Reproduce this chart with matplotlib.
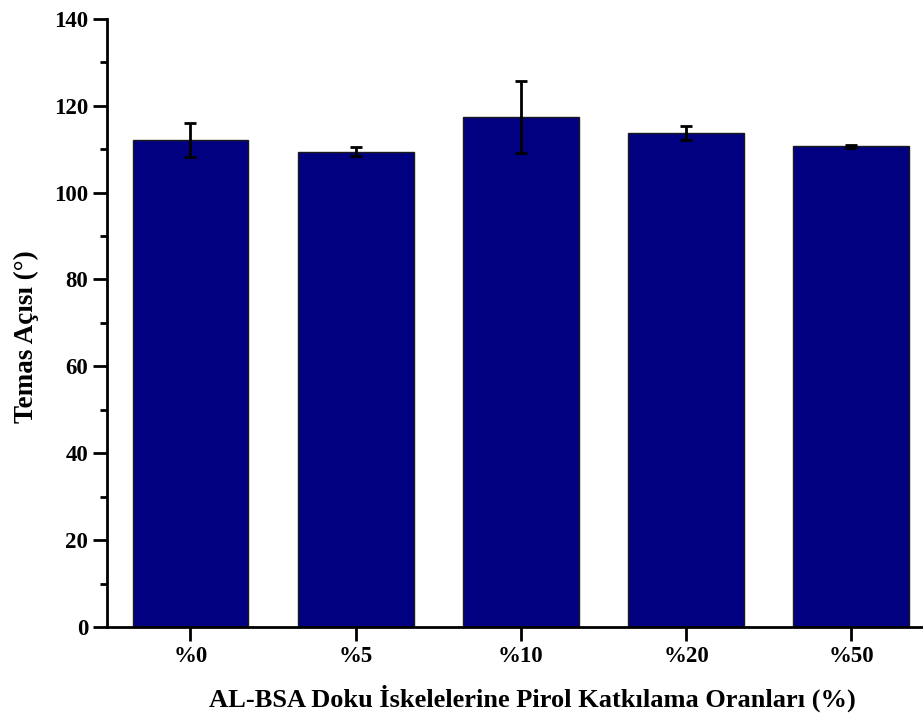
import matplotlib.pyplot as plt
from matplotlib.ticker import MultipleLocator

# Temas açısı ölçümleri (ortalama ± std)
oranlar = ["%0", "%5", "%10", "%20", "%50"]
temas_acisi = [112.1, 109.4, 117.4, 113.7, 110.6]
hata = [4.0, 1.05, 8.2, 1.55, 0.25]

plt.rcParams["font.family"] = ["Liberation Serif", "DejaVu Serif"]
plt.rcParams["font.weight"] = "bold"

fig = plt.figure(figsize=(9.23, 7.2), dpi=100)
ax = fig.add_axes([0.116, 0.129, 0.884, 0.845])

x = range(len(oranlar))
ax.bar(x, temas_acisi, width=0.70, color="#000080", edgecolor="#1a1a1a", linewidth=1.0,
       yerr=hata, capsize=4.5, error_kw=dict(elinewidth=2, capthick=2, ecolor="black"))

ax.set_xlim(-0.505, 4.434)
ax.set_ylim(0, 140)
ax.yaxis.set_major_locator(MultipleLocator(20))
ax.yaxis.set_minor_locator(MultipleLocator(10))
ax.set_xticks(list(x))
ax.set_xticklabels(oranlar)

for side in ("top", "right"):
    ax.spines[side].set_visible(False)
for side in ("left", "bottom"):
    ax.spines[side].set_linewidth(2)

ax.tick_params(axis="both", which="major", direction="out", length=10, width=2, labelsize=16.5)
ax.tick_params(axis="y", which="minor", direction="out", length=5, width=2)
for lbl in ax.get_xticklabels() + ax.get_yticklabels():
    lbl.set_fontweight("bold")

ax.set_xlabel("AL-BSA Doku İskelelerine Pirol Katkılama Oranları (%)", fontsize=19,
              fontweight="bold", labelpad=13)
ax.set_ylabel("Temas Açısı (°)", fontsize=19.5, fontweight="bold", labelpad=11)
ax.xaxis.label.set_x(0.521)
ax.yaxis.label.set_y(0.477)

fig.savefig("out.png", dpi=100)
